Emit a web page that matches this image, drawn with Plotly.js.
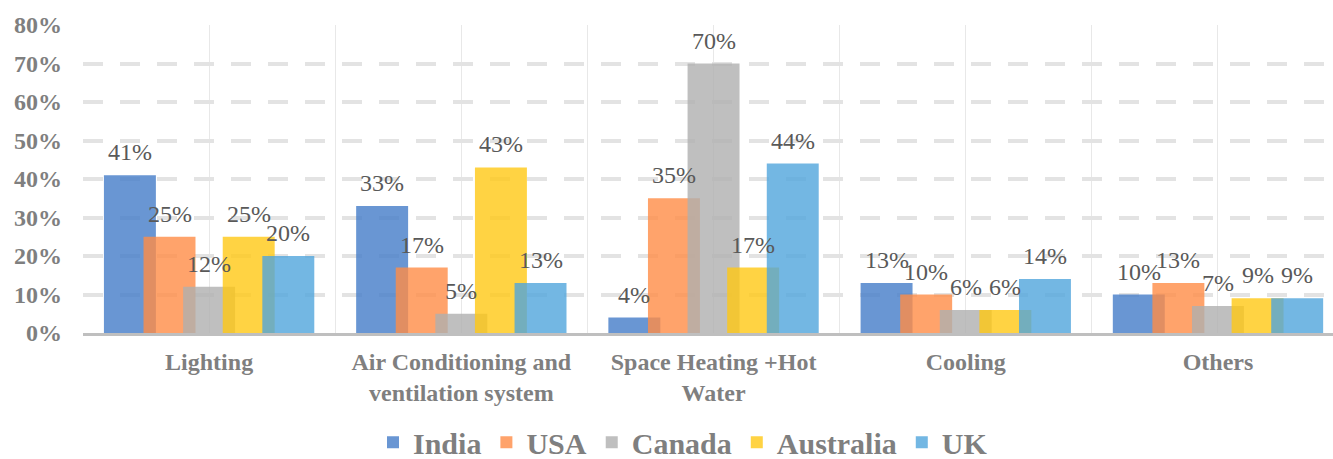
<!DOCTYPE html>
<html>
<head>
<meta charset="utf-8">
<script src="https://cdn.plot.ly/plotly-3.0.1.min.js"></script>
<style>
  html, body { margin: 0; padding: 0; background: #ffffff; }
  #chart { width: 1333px; height: 459px; }
</style>
</head>
<body>
<div id="chart"></div>
<script>
// End-use share of building energy consumption, by country (%)
const categories = [
  "Lighting",
  "Air Conditioning and<br>ventilation system",
  "Space Heating +Hot<br>Water",
  "Cooling",
  "Others"
];
const countries = ["India", "USA", "Canada", "Australia", "UK"];

const india     = [41, 33, 4, 13, 10];
const usa       = [25, 17, 35, 10, 13];
const canada    = [12, 5, 70, 6, 7];
const australia = [25, 43, 17, 6, 9];
const uk        = [20, 13, 44, 14, 9];

const yTicks = [0, 10, 20, 30, 40, 50, 60, 70, 80];

const seriesValues = [india, usa, canada, australia, uk];
const colors = [
  "rgba(68,124,200,0.8)",
  "rgba(255,140,70,0.8)",
  "rgba(175,175,175,0.8)",
  "rgba(255,200,20,0.8)",
  "rgba(80,165,220,0.8)"
];

// Overlapping bar layout: each bar is 0.206 of a category wide,
// neighbouring bars step by 0.157 so they overlap by about a quarter.
const barWidth = 0.206;
const barStep = 0.157;
const centerShift = countries.map((_, i) => (i - 2) * barStep);

const FONT = "Liberation Serif";
const catIndex = categories.map((_, j) => j);

function draw() {
  const traces = countries.map((name, i) => ({
    type: "bar",
    name: name,
    x: catIndex.map(j => j + centerShift[i]),
    y: seriesValues[i],
    width: barWidth,
    marker: { color: colors[i], line: { width: 0 } },
    hoverinfo: "skip"
  }));

  const annotations = [];
  countries.forEach((name, i) => {
    seriesValues[i].forEach((v, j) => {
      annotations.push({
        x: j + centerShift[i],
        y: v,
        xref: "x",
        yref: "y",
        text: v + "%",
        showarrow: false,
        yanchor: "bottom",
        yshift: 8,
        font: { family: FONT, size: 24, color: "#595959" }
      });
    });
  });

  const layout = {
    width: 1333,
    height: 459,
    margin: { l: 83, r: 0, t: 25, b: 126, autoexpand: false },
    paper_bgcolor: "#ffffff",
    plot_bgcolor: "#ffffff",
    font: { family: FONT },
    barmode: "overlay",
    showlegend: true,
    legend: {
      orientation: "h",
      x: 0.480,
      xanchor: "center",
      y: -0.27,
      yanchor: "top",
      font: { family: FONT, size: 30, color: "#7F7F7F", weight: "bold" },
      itemclick: false,
      traceorder: "normal"
    },
    xaxis: {
      type: "linear",
      automargin: false,
      range: [-0.5, 4.456],
      tickmode: "array",
      tickvals: catIndex,
      ticktext: categories,
      ticks: "",
      ticklabelstandoff: 5,
      tickfont: { family: FONT, size: 24, color: "#7F7F7F", weight: "bold" },
      showgrid: true,
      gridcolor: "#E8E8E8",
      gridwidth: 1,
      minor: { dtick: 0.5, tick0: -0.5, showgrid: true, gridcolor: "#E8E8E8", gridwidth: 1 },
      showline: true,
      linecolor: "#BFBFBF",
      linewidth: 3,
      zeroline: false,
      fixedrange: true
    },
    yaxis: {
      automargin: false,
      range: [0, 80],
      tickmode: "array",
      tickvals: yTicks,
      ticktext: yTicks.map(t => t + "%"),
      ticks: "",
      ticklabelstandoff: 20,
      tickfont: { family: FONT, size: 24, color: "#7F7F7F", weight: "bold" },
      showgrid: true,
      gridcolor: "#E3E3E3",
      gridwidth: 4,
      griddash: "20px,17px",
      zeroline: false,
      showline: false,
      fixedrange: true
    },
    annotations: annotations
  };

  Plotly.newPlot("chart", traces, layout, { displayModeBar: false, staticPlot: true });
}

// Make sure the serif face is ready before text is measured and drawn
Promise.all([
  document.fonts.load('24px "Liberation Serif"'),
  document.fonts.load('bold 24px "Liberation Serif"')
]).then(draw, draw);
</script>
</body>
</html>
